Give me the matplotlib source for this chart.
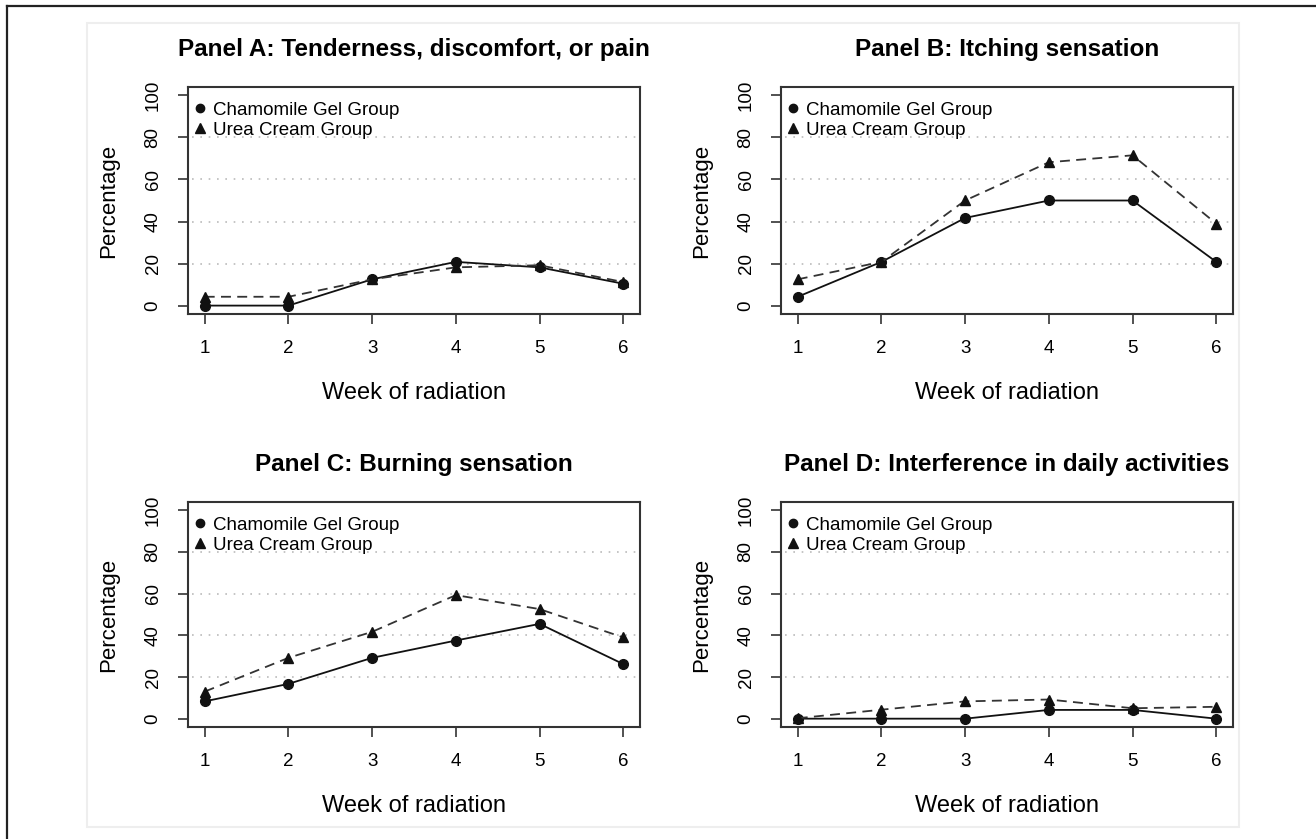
import matplotlib
matplotlib.use("Agg")
import matplotlib.pyplot as plt
from matplotlib.patches import Rectangle
from matplotlib.lines import Line2D

plt.rcParams['font.family'] = ['Liberation Sans', 'DejaVu Sans']

weeks = [1, 2, 3, 4, 5, 6]
titles = [
    "Panel A: Tenderness, discomfort, or pain",
    "Panel B: Itching sensation",
    "Panel C: Burning sensation",
    "Panel D: Interference in daily activities",
]
# percentages
chamomile_a = [0, 0, 12.5, 20.8, 18.2, 10.4]
urea_a = [4.2, 4.2, 12.5, 18.2, 19.2, 11.2]
chamomile_b = [4.2, 20.8, 41.7, 50.0, 50.0, 20.8]
urea_b = [12.5, 20.8, 50.0, 68.2, 71.5, 39.0]
chamomile_c = [8.3, 16.7, 29.2, 37.5, 45.5, 26.2]
urea_c = [13.0, 29.2, 41.7, 59.3, 52.6, 39.0]
chamomile_d = [0, 0, 0, 4.2, 4.2, 0]
urea_d = [0.2, 4.3, 8.3, 9.2, 5.0, 5.7]

chamomile = [chamomile_a, chamomile_b, chamomile_c, chamomile_d]
urea = [urea_a, urea_b, urea_c, urea_d]
grid_vals = [20, 40, 60, 80]

W, H = 1316, 839
fig = plt.figure(figsize=(W / 100, H / 100), dpi=100)

# outer frame (top and left edges) and faint inner box
fig.add_artist(Line2D([7 / W, 7 / W], [0, 1 - 6 / H], transform=fig.transFigure,
                      color='#222222', lw=1.6))
fig.add_artist(Line2D([7 / W, 1], [1 - 6 / H, 1 - 6 / H], transform=fig.transFigure,
                      color='#222222', lw=1.6))
fig.add_artist(Rectangle((87 / W, 1 - 827 / H), (1239 - 87) / W, (827 - 23) / H,
                         transform=fig.transFigure, fill=False,
                         edgecolor='#eeeeee', lw=1.5))

boxes = [(188, 87, 640, 314), (781, 87, 1233, 314),
         (188, 502, 640, 727), (781, 502, 1233, 727)]

for i, (x0, y0, x1, y1) in enumerate(boxes):
    ax = fig.add_axes([x0 / W, 1 - y1 / H, (x1 - x0) / W, (y1 - y0) / H])
    ax.set_xlim(0.8, 6.2)
    ax.set_ylim(-4, 104)
    ax.hlines(grid_vals, 0.85, 6.15, colors='#bbbbbb', linestyles=(0, (1, 4)), lw=1.2)
    ax.plot(weeks, chamomile[i], color='#111111', lw=1.3, marker='o', ms=7,
            label='Chamomile Gel Group')
    ax.plot(weeks, urea[i], color='#333333', lw=1.3, ls=(0, (5.5, 3.5)), marker='^',
            ms=7.5, mfc='#111111', mec='#111111', label='Urea Cream Group')
    ax.set_xticks(weeks)
    ax.set_yticks([0, 20, 40, 60, 80, 100])
    ax.tick_params(direction='out', length=7, width=1.2, color='#333333',
                   labelsize=13.5, pad=12)
    for lab in ax.get_yticklabels():
        lab.set_rotation(90)
        lab.set_va('center')
    for sp in ax.spines.values():
        sp.set_color('#333333')
        sp.set_linewidth(1.5)
    ax.set_xlabel("Week of radiation", fontsize=17, labelpad=18)
    ax.set_ylabel("Percentage", fontsize=16, labelpad=18)
    ax.set_title(titles[i], fontsize=17.5, fontweight='bold', pad=22)
    handles = [Line2D([], [], color='#111111', marker='o', ls='none', ms=6),
               Line2D([], [], color='#111111', marker='^', ls='none', ms=6.5)]
    ax.legend(handles, ['Chamomile Gel Group', 'Urea Cream Group'], loc='upper left',
              bbox_to_anchor=(0.0, 0.965), frameon=False, fontsize=13.5,
              handlelength=0.6, handletextpad=0.4, labelspacing=0.15,
              borderaxespad=0, borderpad=0.35)

fig.savefig("out.png", dpi=100)
